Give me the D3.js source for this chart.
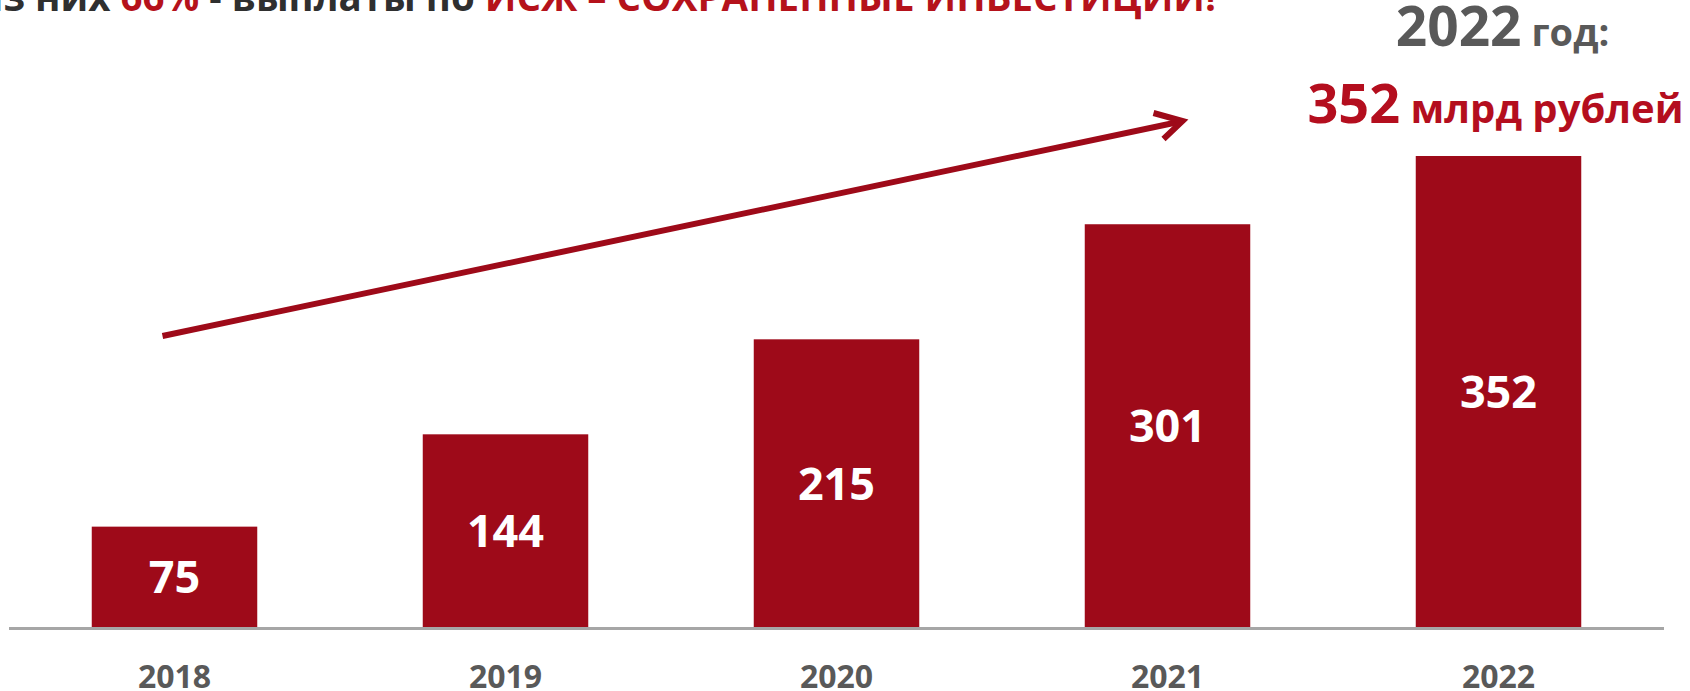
<!DOCTYPE html>
<html>
<head>
<meta charset="utf-8">
<script src="https://cdn.jsdelivr.net/npm/d3@7"></script>
<style>
  body { margin: 0; background: #fff; }
  svg { display: block; font-family: "Open Sans", "Noto Sans", sans-serif; font-weight: 700; }
</style>
</head>
<body>
<script>
var years = ["2018", "2019", "2020", "2021", "2022"];
var values = [75, 144, 215, 301, 352];
var topLine = [
    ["Из них ", "#2f2f2f"],
    ["66%", "#b5121b"],
    [" - выплаты по ", "#2f2f2f"],
    ["ИСЖ – СОХРАНЕННЫЕ ИНВЕСТИЦИИ!", "#b5121b"]
];

var w = 1690,
    h = 691,
    base = 627,
    barColor = "#9e0a19";

var svg = d3.select("body").append("svg")
    .attr("width", w)
    .attr("height", h);

var x = d3.scaleBand()
    .domain(years)
    .range([9, 1664])
    .paddingInner(0.5)
    .paddingOuter(0.25);

var y = d3.scaleLinear()
    .domain([0, d3.max(values)])
    .range([base, 156]);

// headline, cut off by the top edge like in the slide
var head = svg.append("text")
    .attr("x", -28)
    .attr("y", 11)
    .attr("font-size", 38.5);
head.selectAll("tspan")
    .data(topLine)
    .enter()
    .append("tspan")
    .attr("fill", function(d) { return d[1]; })
    .text(function(d) { return d[0]; });

// bars
svg.selectAll(".bar")
    .data(values)
    .enter()
    .append("rect")
    .attr("class", "bar")
    .attr("x", function(d, i) { return x(years[i]); })
    .attr("y", function(d) { return y(d); })
    .attr("width", x.bandwidth())
    .attr("height", function(d) { return base - y(d); })
    .attr("fill", barColor);

// baseline
svg.append("line")
    .attr("x1", x.range()[0])
    .attr("x2", x.range()[1])
    .attr("y1", base + 1.5)
    .attr("y2", base + 1.5)
    .attr("stroke", "#a6a6a6")
    .attr("stroke-width", 3);

// value labels
svg.selectAll(".val")
    .data(values)
    .enter()
    .append("text")
    .attr("class", "val")
    .attr("x", function(d, i) { return x(years[i]) + x.bandwidth() / 2; })
    .attr("y", function(d) { return (y(d) + base) / 2; })
    .attr("dy", "0.37em")
    .attr("text-anchor", "middle")
    .attr("font-size", 45)
    .attr("fill", "#fff")
    .text(function(d) { return d; });

// year labels
var axis = d3.axisBottom(x).tickSize(0).tickPadding(0);
var axisG = svg.append("g")
    .attr("transform", "translate(0," + 688 + ")")
    .call(axis);
axisG.select(".domain").remove();
axisG.selectAll("text")
    .attr("dy", 0)
    .attr("font-family", "Open Sans, sans-serif")
    .attr("font-weight", 700)
    .attr("font-size", 32)
    .attr("fill", "#595959");

// growth arrow
var x0 = x(years[0]) + x.bandwidth() / 2 - 12,
    y0 = 336,
    x1 = x(years[3]) + x.bandwidth() / 2 + 15,
    y1 = 121;
svg.append("line")
    .attr("x1", x0).attr("y1", y0)
    .attr("x2", x1 - 4).attr("y2", y1 + 1)
    .attr("stroke", barColor)
    .attr("stroke-width", 6);
svg.append("path")
    .attr("d", d3.line()([[x1 - 29, y1 - 8], [x1, y1], [x1 - 19, y1 + 18]]))
    .attr("fill", "none")
    .attr("stroke", barColor)
    .attr("stroke-width", 6)
    .attr("stroke-linejoin", "miter");

// 2022 callout
var cx = x(years[4]) + x.bandwidth() / 2;
var c1 = svg.append("text")
    .attr("x", cx + 4)
    .attr("y", 46)
    .attr("text-anchor", "middle")
    .attr("fill", "#595959");
c1.append("tspan").attr("font-size", 55).text(years[4]);
c1.append("tspan").attr("font-size", 38).text(" год:");

var c2 = svg.append("text")
    .attr("x", cx - 3)
    .attr("y", 123)
    .attr("text-anchor", "middle")
    .attr("fill", "#b40e1e");
c2.append("tspan").attr("font-size", 54).text(values[4]);
c2.append("tspan").attr("font-size", 40).text(" млрд рублей");
</script>
</body>
</html>
